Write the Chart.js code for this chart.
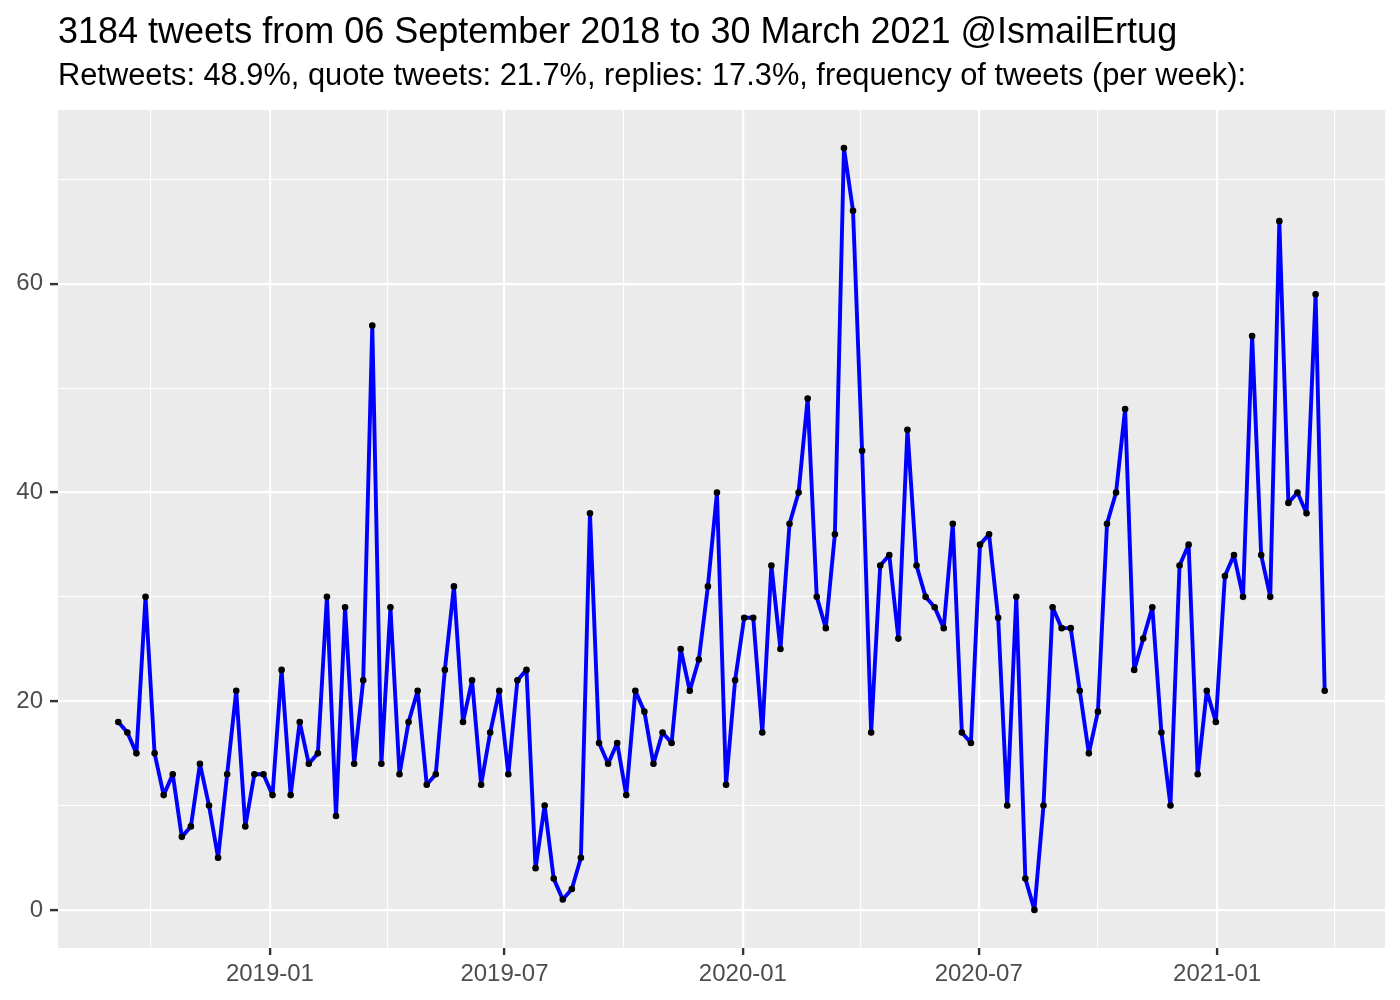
<!DOCTYPE html>
<html>
<head>
<meta charset="utf-8">
<title>Tweets per week @IsmailErtug</title>
<script src="https://cdn.jsdelivr.net/npm/chart.js@4.4.1/dist/chart.umd.min.js"></script>
<style>
  html, body { margin: 0; padding: 0; background: #fff; }
  #wrap { width: 1400px; height: 1000px; }
</style>
</head>
<body>
<div id="wrap"><canvas id="tweetChart" width="1400" height="1000"></canvas></div>
<script>
// tweets per week, first week begins 06 Sep 2018
const firstWeek = '2018-09-06';
const weeklyTweets = [
  18, 17, 15, 30, 15, 11, 13, 7, 8, 14,
  10, 5, 13, 21, 8, 13, 13, 11, 23, 11,
  18, 14, 15, 30, 9, 29, 14, 22, 56, 14,
  29, 13, 18, 21, 12, 13, 23, 31, 18, 22,
  12, 17, 21, 13, 22, 23, 4, 10, 3, 1,
  2, 5, 38, 16, 14, 16, 11, 21, 19, 14,
  17, 16, 25, 21, 24, 31, 40, 12, 22, 28,
  28, 17, 33, 25, 37, 40, 49, 30, 27, 36,
  73, 67, 44, 17, 33, 34, 26, 46, 33, 30,
  29, 27, 37, 17, 16, 35, 36, 28, 10, 30,
  3, 0, 10, 29, 27, 27, 21, 15, 19, 37,
  40, 48, 23, 26, 29, 17, 10, 33, 35, 13,
  21, 18, 32, 34, 30, 55, 34, 30, 66, 39,
  40, 38, 59, 21
];
const xMajorLabels = ['2019-01', '2019-07', '2020-01', '2020-07', '2021-01'];
const xOuterBreaks = ['2018-07', '2021-07'];   // only used to place minor lines
const yTicks = [0, 10, 20, 30, 40, 50, 60, 70];
const yLabelled = [0, 20, 40, 60];

const titleText = '3184 tweets from 06 September 2018 to 30 March 2021 @IsmailErtug';
const subtitleText = 'Retweets: 48.9%, quote tweets: 21.7%, replies: 17.3%, frequency of tweets (per week):';

function toDay(str) {
  const p = str.split('-').map(Number);
  return Date.UTC(p[0], p[1] - 1, p[2] || 1) / 86400000;
}

const startDay = toDay(firstWeek);
const points = weeklyTweets.map((n, i) => ({ x: startDay + 7 * i, y: n }));

// major breaks plus ggplot-style minor breaks half way between them
const majors = xMajorLabels.map(toDay);
const allBreaks = [toDay(xOuterBreaks[0])].concat(majors, [toDay(xOuterBreaks[1])]);
const xMinors = [];
for (let i = 0; i < allBreaks.length - 1; i++) {
  xMinors.push((allBreaks[i] + allBreaks[i + 1]) / 2);
}

const xFirst = points[0].x;
const xLast = points[points.length - 1].x;
const xPad = (xLast - xFirst) * 0.05;
const yMaxData = Math.max(...weeklyTweets);
const yMinData = Math.min(...weeklyTweets);
const yPad = (yMaxData - yMinData) * 0.05;

const xMin = xFirst - xPad;
const xMax = xLast + xPad;
const xTicks = majors.concat(xMinors.filter(v => v > xMin && v < xMax)).sort((a, b) => a - b);

const isMajorX = v => majors.some(m => Math.abs(m - v) < 0.01);
const isMajorY = v => yLabelled.includes(v);

const panelBackground = {
  id: 'panelBackground',
  beforeDraw(chart) {
    const { ctx, chartArea } = chart;
    ctx.save();
    ctx.fillStyle = '#EBEBEB';
    ctx.fillRect(chartArea.left, chartArea.top, chartArea.right - chartArea.left, chartArea.bottom - chartArea.top);
    ctx.restore();
  }
};

const headings = {
  id: 'headings',
  afterDraw(chart) {
    const { ctx, chartArea } = chart;
    ctx.save();
    ctx.fillStyle = '#000000';
    ctx.textAlign = 'left';
    ctx.textBaseline = 'alphabetic';
    ctx.font = '36px "Liberation Sans", Arial, sans-serif';
    ctx.fillText(titleText, chartArea.left, 43);
    ctx.font = '30.8px "Liberation Sans", Arial, sans-serif';
    ctx.fillText(subtitleText, chartArea.left, 84.5);
    ctx.restore();
  }
};

const ctx = document.getElementById('tweetChart').getContext('2d');
new Chart(ctx, {
  type: 'line',
  data: {
    datasets: [{
      data: points,
      borderColor: '#0000FF',
      borderWidth: 3.9,
      borderJoinStyle: 'round',
      borderCapStyle: 'round',
      tension: 0,
      pointRadius: 2.7,
      pointBorderWidth: 1.2,
      pointBackgroundColor: '#000000',
      pointBorderColor: '#000000'
    }]
  },
  options: {
    responsive: false,
    devicePixelRatio: 1,
    animation: false,
    layout: { padding: { top: 110, left: 0, right: 15, bottom: 0 } },
    plugins: {
      legend: { display: false },
      tooltip: { enabled: false }
    },
    scales: {
      x: {
        type: 'linear',
        min: xMin,
        max: xMax,
        afterBuildTicks: scale => {
          scale.ticks = xTicks.map(v => ({ value: v }));
        },
        afterFit: scale => { scale.height = 52; },
        border: { display: false },
        grid: {
          color: '#FFFFFF',
          lineWidth: c => (c.tick && isMajorX(c.tick.value) ? 2.2 : 1.1),
          drawTicks: true,
          tickLength: 7,
          tickWidth: 2.4,
          tickColor: c => (c.tick && isMajorX(c.tick.value) ? '#333333' : 'rgba(0,0,0,0)')
        },
        ticks: {
          autoSkip: false,
          maxRotation: 0,
          padding: 5,
          color: '#4D4D4D',
          font: { family: '"Liberation Sans", Arial, sans-serif', size: 24 },
          callback: value => {
            const i = majors.findIndex(m => Math.abs(m - value) < 0.01);
            return i >= 0 ? xMajorLabels[i] : '';
          }
        }
      },
      y: {
        type: 'linear',
        min: yMinData - yPad,
        max: yMaxData + yPad,
        afterBuildTicks: scale => {
          scale.ticks = yTicks.map(v => ({ value: v }));
        },
        afterFit: scale => { scale.width = 58; },
        border: { display: false },
        grid: {
          color: '#FFFFFF',
          lineWidth: c => (c.tick && isMajorY(c.tick.value) ? 2.2 : 1.1),
          drawTicks: true,
          tickLength: 8,
          tickWidth: 2.4,
          tickColor: c => (c.tick && isMajorY(c.tick.value) ? '#333333' : 'rgba(0,0,0,0)')
        },
        ticks: {
          autoSkip: false,
          padding: 7,
          color: '#4D4D4D',
          font: { family: '"Liberation Sans", Arial, sans-serif', size: 24 },
          callback: value => (isMajorY(value) ? String(value) : '')
        }
      }
    }
  },
  plugins: [panelBackground, headings]
});
</script>
</body>
</html>
